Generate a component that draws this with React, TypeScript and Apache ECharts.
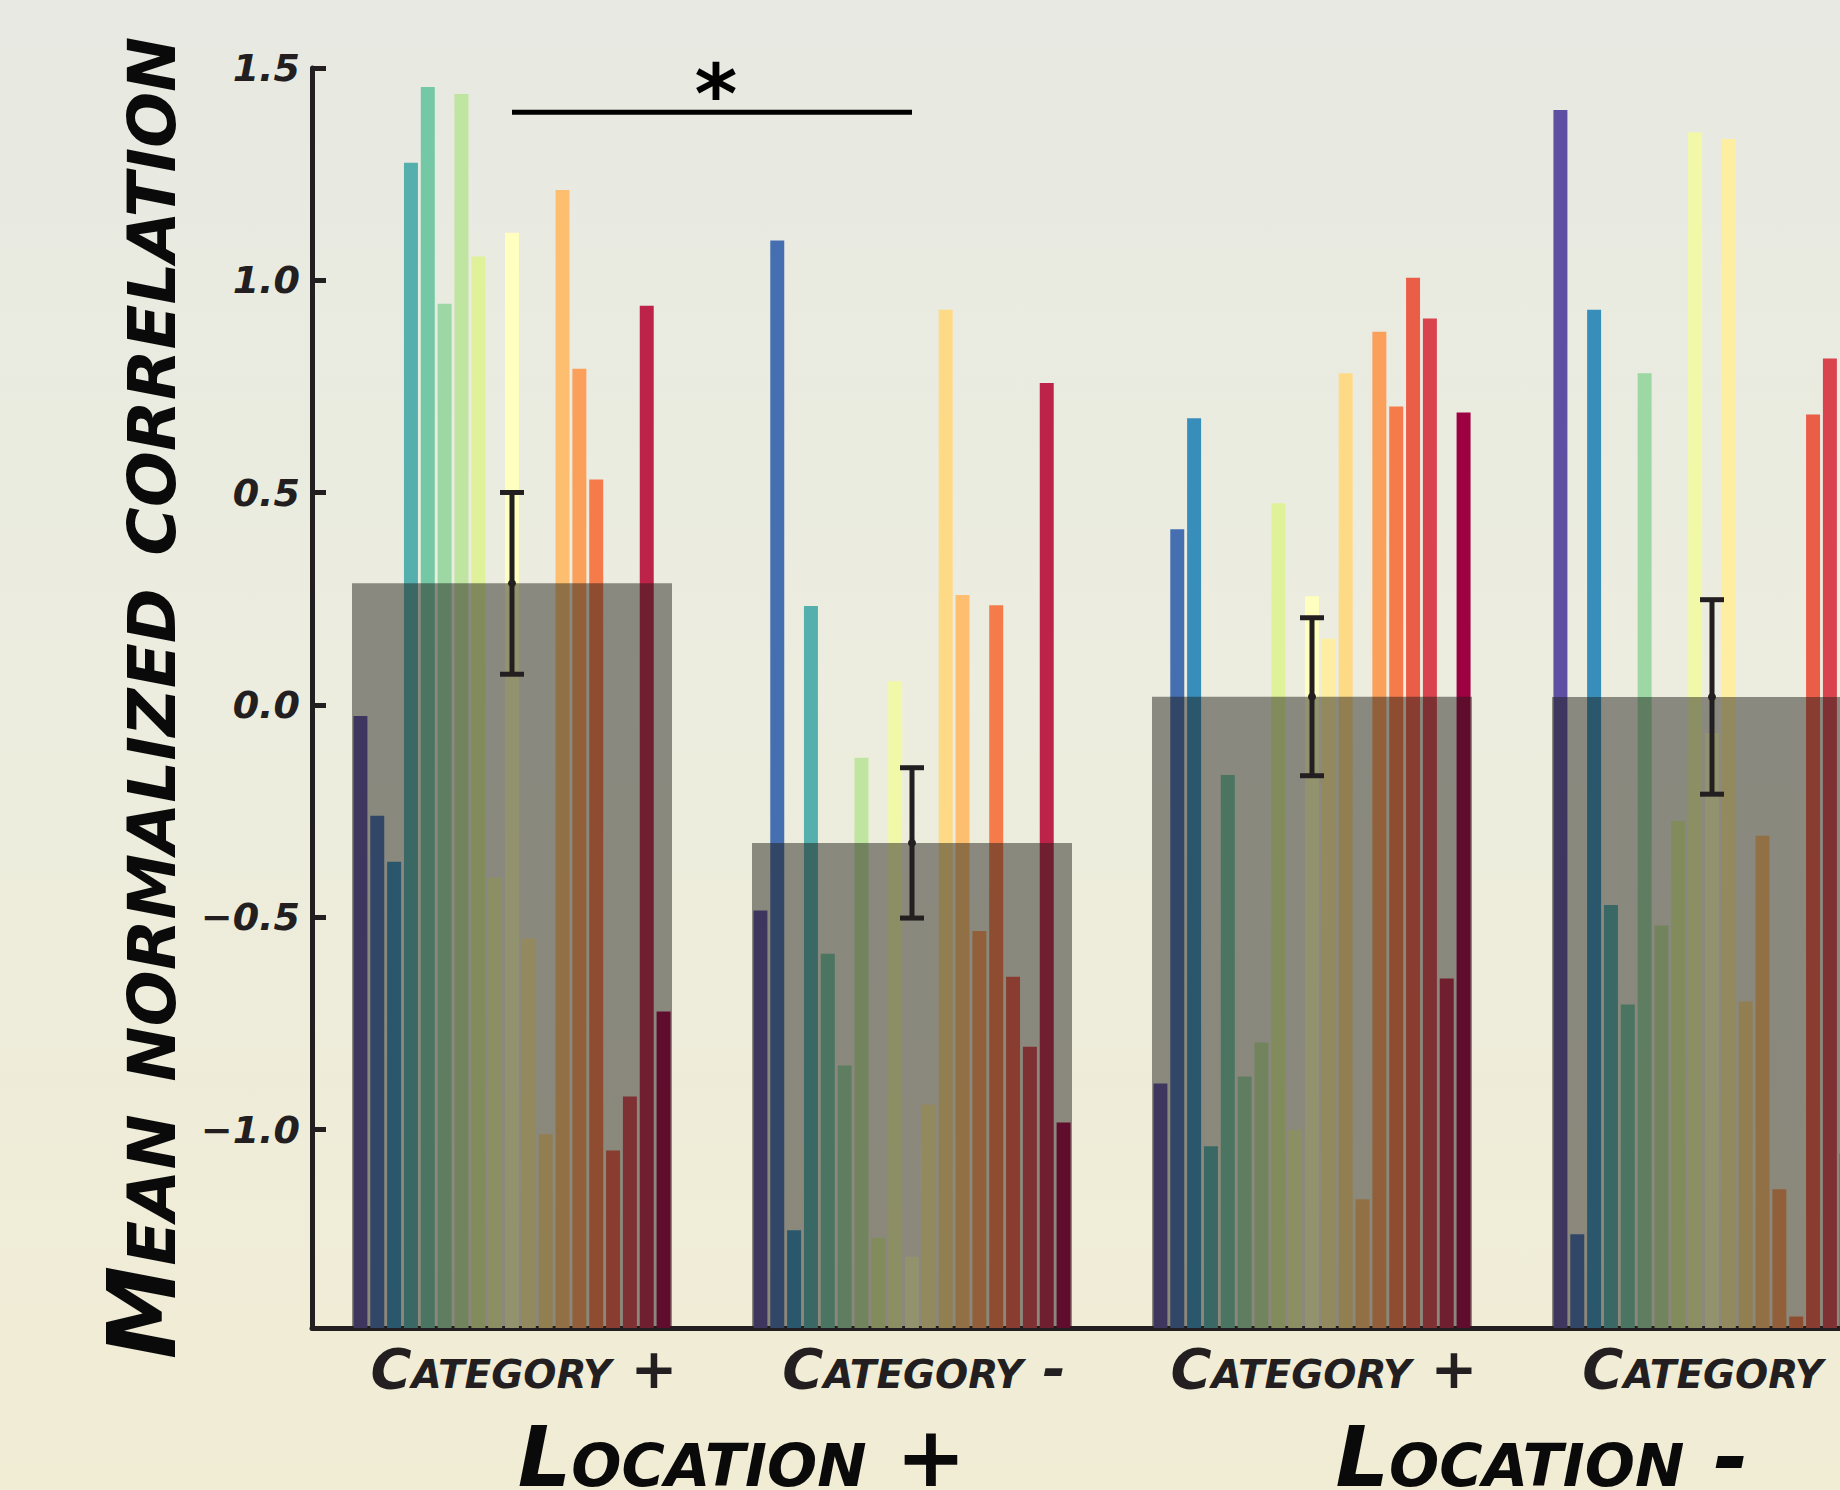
import React, { useEffect, useRef } from 'react';
import * as echarts from 'echarts';

// ---------- data ----------
const categories = ['Category +', 'Category -', 'Category +', 'Category -'];
const locations = ['Location +', 'Location -'];

const group1Values = [-0.026, -0.261, -0.369, 1.277, 1.455, 0.945, 1.439, 1.056, -0.407, 1.112, -0.55, -1.011, 1.213, 0.792, 0.531, -1.049, -0.922, 0.94, -0.722];
const group2Values = [-0.484, 1.094, -1.237, 0.233, -0.586, -0.849, -0.124, -1.255, 0.056, -1.299, -0.941, 0.931, 0.259, -0.532, 0.235, -0.64, -0.805, 0.758, -0.983];
const group3Values = [-0.891, 0.414, 0.675, -1.039, -0.165, -0.875, -0.795, 0.475, -1.001, 0.256, 0.156, 0.781, -1.164, 0.879, 0.703, 1.006, 0.91, -0.644, 0.689];
const group4Values = [1.401, -1.246, 0.931, -0.471, -0.705, 0.781, -0.519, -0.273, 1.349, -0.066, 1.333, -0.698, -0.308, -1.14, -1.44, 0.684, 0.816, -1.056, 0.988];
const groupValues = [group1Values, group2Values, group3Values, group4Values];
const errorValues = [0.214, 0.177, 0.186, 0.229];
const significanceLevel = 1.396;
const significanceLabel = '*';
const yMin = -1.467;
const yMax = 1.5;

// ---------- style ----------
const ink = '#231f20';
const fontFamily = 'DejaVu Sans';
const smallCapsFamily = 'DejaVu Sans;font-variant:small-caps';
const spectralStops = ['#9e0142', '#d53e4f', '#f46d43', '#fdae61', '#fee08b', '#ffffbf', '#e6f598', '#abdda4', '#66c2a5', '#3288bd', '#5e4fa2'];

function hexToRgb(h: string) {
  return [parseInt(h.slice(1, 3), 16), parseInt(h.slice(3, 5), 16), parseInt(h.slice(5, 7), 16)];
}
function spectralR(t: number) {
  const s = (1 - t) * 10;
  const k = Math.min(9, Math.floor(s));
  const f = s - k;
  const a = hexToRgb(spectralStops[k]);
  const b = hexToRgb(spectralStops[k + 1]);
  const c = a.map((v, j) => Math.round(v + (b[j] - v) * f));
  return `rgb(${c[0]},${c[1]},${c[2]})`;
}

const nBars = group1Values.length;
const barColors = Array.from({ length: nBars }, (_, i) => spectralR(i / (nBars - 1)));

const barData: number[][] = [];
groupValues.forEach((vals, g) => vals.forEach((v, i) => barData.push([g, i, v])));
const means = groupValues.map((vals) => vals.reduce((a, b) => a + b, 0) / vals.length);
const meanData = means.map((m, g) => [g, m]);
const errData = means.map((m, g) => [g, m, errorValues[g]]);

export default function App() {
  const ref = useRef<HTMLDivElement>(null);
  useEffect(() => {
    if (!ref.current) return;
    const chart = echarts.init(ref.current, null, { renderer: 'svg' });
    const option: any = {
      animation: false,
      backgroundColor: 'transparent',
      grid: { left: 312, right: 0, top: 68, bottom: 162, outerBoundsMode: 'none' },
      xAxis: [
        {
          type: 'category',
          data: categories,
          position: 'bottom',
          axisLine: { show: true, onZero: false, lineStyle: { color: ink, width: 5 } },
          axisTick: { show: false },
          splitLine: { show: false },
          axisLabel: {
            interval: 0,
            hideOverlap: false,
            margin: 12,
            padding: [0, 0, 0, 24],
            color: ink,
            fontFamily: smallCapsFamily,
            fontStyle: 'italic',
            fontWeight: 'bold',
            fontSize: 56,
            lineHeight: 56,
          },
        },
        {
          type: 'category',
          data: locations,
          position: 'bottom',
          axisLine: { show: false, onZero: false },
          axisTick: { show: false },
          splitLine: { show: false },
          axisLabel: {
            interval: 0,
            hideOverlap: false,
            margin: 99,
            padding: [0, 0, 0, 60],
            color: '#0a0a0a',
            fontFamily: smallCapsFamily,
            fontStyle: 'italic',
            fontWeight: 'bold',
            fontSize: 84,
            lineHeight: 60,
          },
        },
      ],
      yAxis: {
        type: 'value',
        min: yMin,
        max: yMax,
        splitNumber: 5,
        splitLine: { show: false },
        axisLine: { show: true, lineStyle: { color: ink, width: 5 } },
        axisTick: { show: true, inside: true, length: 14, lineStyle: { color: ink, width: 5 } },
        axisLabel: {
          showMinLabel: false,
          margin: 12,
          color: ink,
          fontFamily,
          fontStyle: 'italic',
          fontWeight: 'bold',
          fontSize: 38,
          formatter: (v: number) => v.toFixed(1).replace('-', '\u2212'),
        },
        name: 'Mean normalized correlation',
        nameLocation: 'middle',
        nameRotate: 90,
        nameGap: 110,
        nameTextStyle: {
          color: '#0a0a0a',
          fontFamily: smallCapsFamily,
          fontStyle: 'italic',
          fontWeight: 'bold',
          fontSize: 94,
          lineHeight: 94,
        },
      },
      series: [
        {
          type: 'custom',
          z: 2,
          data: barData,
          encode: { x: 0, y: 2 },
          renderItem: (params: any, api: any) => {
            const g = api.value(0);
            const i = api.value(1);
            const v = api.value(2);
            const top = api.coord([g, v]);
            const base = api.coord([g, yMin]);
            const band = api.size([1, 0])[0];
            const slot = (band * 0.8) / nBars;
            const w = slot * 0.83;
            const cx = top[0] + (i - (nBars - 1) / 2) * slot;
            return {
              type: 'rect',
              shape: { x: cx - w / 2, y: top[1], width: w, height: base[1] - top[1] },
              style: { fill: barColors[i] },
            };
          },
        },
        {
          type: 'custom',
          z: 3,
          data: meanData,
          encode: { x: 0, y: 1 },
          renderItem: (params: any, api: any) => {
            const g = api.value(0);
            const m = api.value(1);
            const top = api.coord([g, m]);
            const base = api.coord([g, yMin]);
            const band = api.size([1, 0])[0];
            return {
              type: 'rect',
              shape: { x: top[0] - band * 0.4, y: top[1], width: band * 0.8, height: base[1] - top[1] },
              style: { fill: 'rgba(30,28,24,0.48)' },
            };
          },
        },
        {
          type: 'custom',
          z: 4,
          data: errData,
          encode: { x: 0, y: 1 },
          renderItem: (params: any, api: any) => {
            const g = api.value(0);
            const m = api.value(1);
            const e = api.value(2);
            const c = api.coord([g, m]);
            const t = api.coord([g, m + e]);
            const b = api.coord([g, m - e]);
            const st = { stroke: ink, lineWidth: 5 };
            return {
              type: 'group',
              children: [
                { type: 'line', shape: { x1: t[0], y1: t[1], x2: b[0], y2: b[1] }, style: st },
                { type: 'line', shape: { x1: t[0] - 12, y1: t[1], x2: t[0] + 12, y2: t[1] }, style: st },
                { type: 'line', shape: { x1: b[0] - 12, y1: b[1], x2: b[0] + 12, y2: b[1] }, style: st },
                { type: 'circle', shape: { cx: c[0], cy: c[1], r: 4 }, style: { fill: ink } },
              ],
            };
          },
        },
        {
          type: 'custom',
          z: 5,
          data: [[0, 1, significanceLevel]],
          encode: { x: 0, y: 2 },
          renderItem: (params: any, api: any) => {
            const p0 = api.coord([api.value(0), api.value(2)]);
            const p1 = api.coord([api.value(1), api.value(2)]);
            return {
              type: 'group',
              children: [
                { type: 'line', shape: { x1: p0[0], y1: p0[1], x2: p1[0], y2: p1[1] }, style: { stroke: '#000', lineWidth: 5 } },
                {
                  type: 'text',
                  x: (p0[0] + p1[0]) / 2 + 4,
                  y: p0[1] - 18,
                  style: {
                    text: significanceLabel,
                    fontFamily,
                    fontWeight: 'bold',
                    fontSize: 82,
                    fill: '#000',
                    align: 'center',
                    verticalAlign: 'middle',
                  },
                },
              ],
            };
          },
        },
      ],
    };
    chart.setOption(option);
    return () => chart.dispose();
  }, []);
  return (
    <div
      style={{
        position: 'fixed',
        left: 0,
        top: 0,
        width: 1840,
        height: 1490,
        overflow: 'hidden',
        background: 'linear-gradient(180deg, #e7e9e2 0%, #eceddf 45%, #f1ecd4 100%)',
      }}
    >
      <div ref={ref} style={{ position: 'absolute', left: 0, top: 0, width: 1912, height: 1490 }} />
    </div>
  );
}
